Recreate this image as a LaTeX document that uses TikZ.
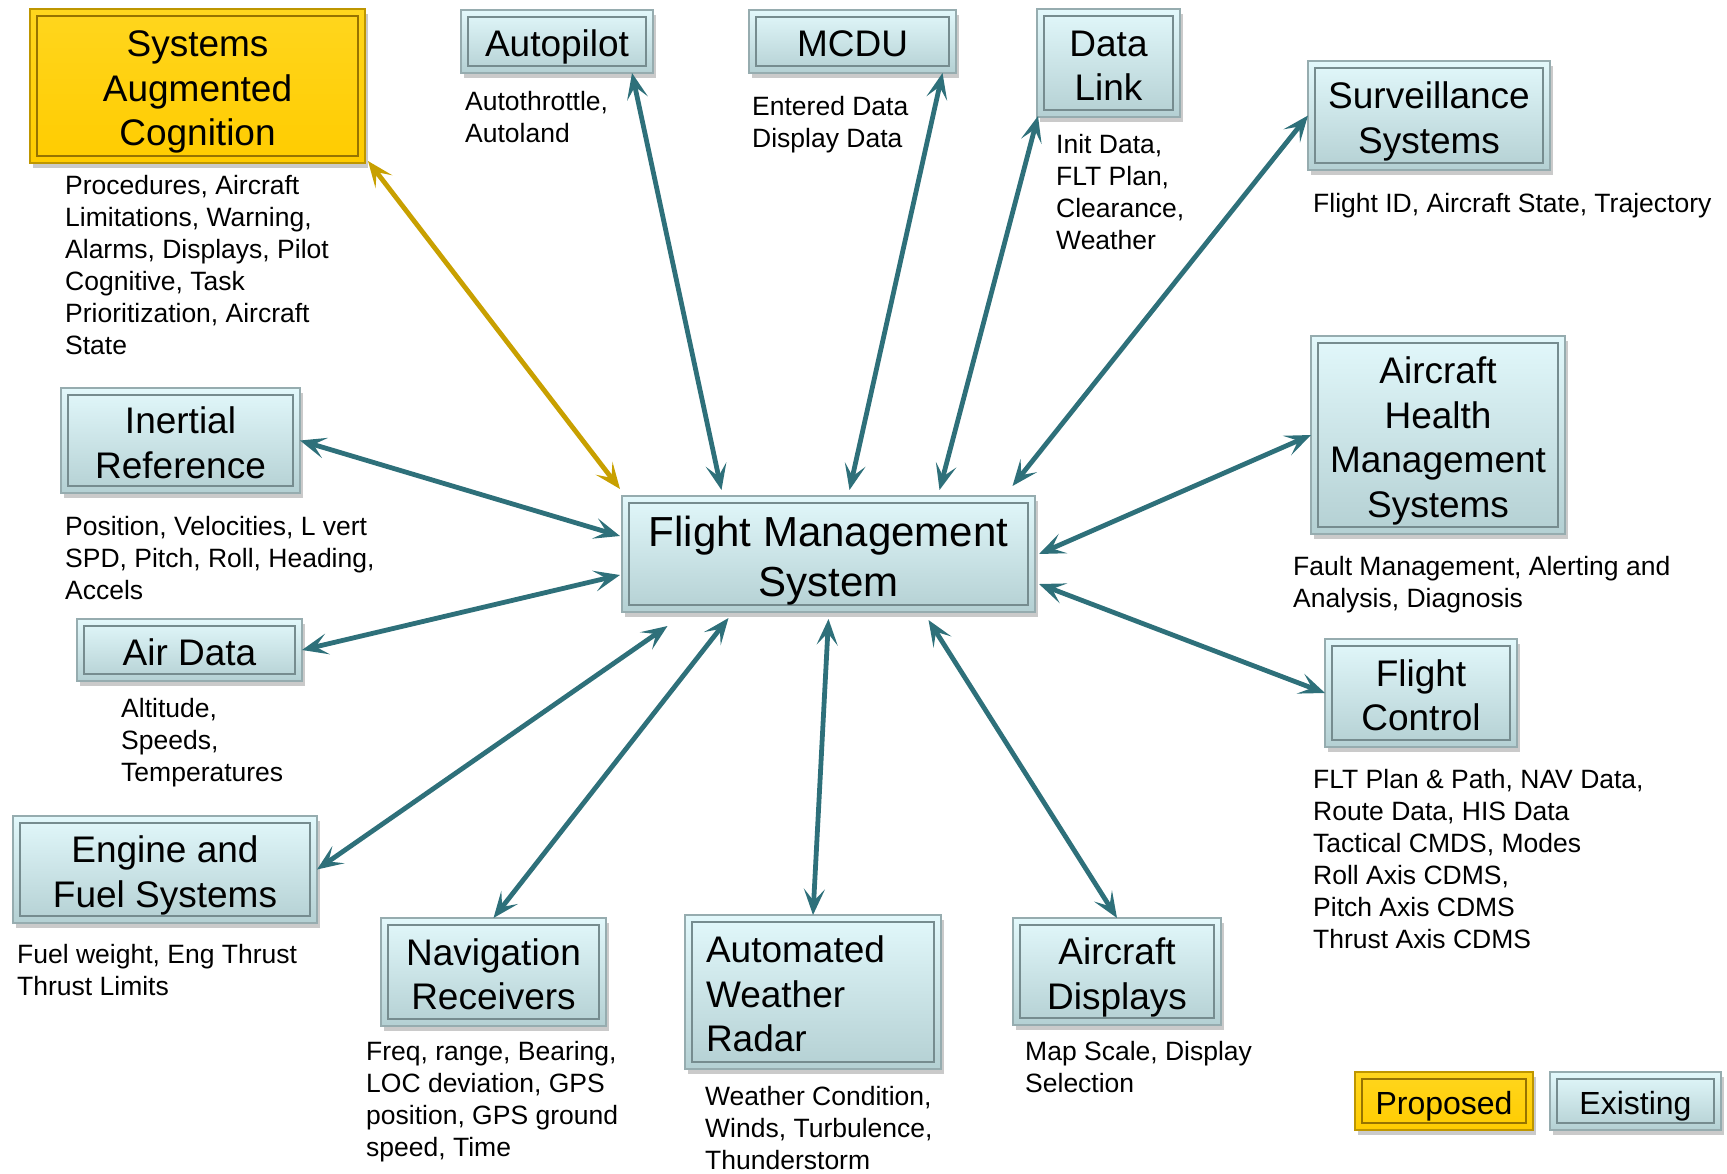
\documentclass[tikz,border=0pt]{standalone}
\usepackage{fontspec}
\setmainfont{Liberation Sans}
\usetikzlibrary{arrows.meta,shadows,calc}
\definecolor{boxtop}{RGB}{226,248,251}
\definecolor{boxbot}{RGB}{180,208,211}
\definecolor{boxline}{RGB}{150,172,175}
\definecolor{boxinner}{RGB}{118,140,143}
\definecolor{goldfill}{RGB}{255,204,0}
\definecolor{goldtop}{RGB}{255,214,30}
\definecolor{goldline}{RGB}{190,150,0}
\definecolor{goldinner}{RGB}{150,115,0}
\definecolor{teal}{RGB}{46,112,122}
\definecolor{goldarrow}{RGB}{200,160,0}
\newcommand{\lbltab}[1]{\begin{tabular}[t]{@{}l@{}}#1\end{tabular}}
\newcommand{\topstr}{\rule{0pt}{1.05em}}
\newcommand{\botstr}{\rule[-0.22em]{0pt}{0.22em}}
\tikzset{
  sysbox/.style={draw=boxline, line width=1.5pt, top color=boxtop, bottom color=boxbot,
    inner sep=0pt, outer sep=0pt, align=center,
    font=\fontsize{37}{44.6}\selectfont,
    drop shadow={shadow xshift=3pt, shadow yshift=-5pt, opacity=0.35, fill=black!60},
    path picture={\draw[boxinner, line width=2.2pt]
      ([shift={(7pt,-7pt)}]path picture bounding box.north west) rectangle
      ([shift={(-7pt,7pt)}]path picture bounding box.south east);}},
  propbox/.style={sysbox, draw=goldline, top color=goldtop, bottom color=goldfill,
    path picture={\draw[goldinner, line width=2.2pt]
      ([shift={(7pt,-7pt)}]path picture bounding box.north west) rectangle
      ([shift={(-7pt,7pt)}]path picture bounding box.south east);}},
  lbl/.style={anchor=base west, inner sep=0pt, font=\fontsize{26.5}{32}\selectfont},
  link/.style={draw=teal, line width=4.8pt,
    {Stealth[length=26pt, width=21pt, inset=12pt]}-{Stealth[length=26pt, width=21pt, inset=12pt]}},
  goldlink/.style={link, draw=goldarrow}
}
\begin{document}
\begin{tikzpicture}[x=1pt, y=-1pt]
\useasboundingbox (0,0) rectangle (1727,1173);
% boxes
\node[propbox, minimum width=335pt, minimum height=154pt] (sac) at (197.5,86) {\topstr Systems\\Augmented\\Cognition\botstr};
\node[sysbox, minimum width=192pt, minimum height=63pt] (ap) at (557,41.5) {\topstr Autopilot\botstr};
\node[sysbox, minimum width=207pt, minimum height=63pt] (mcdu) at (852.5,41.5) {\topstr MCDU\botstr};
\node[sysbox, minimum width=143pt, minimum height=108pt] (dl) at (1108.5,63) {\topstr Data\\Link\botstr};
\node[sysbox, minimum width=242pt, minimum height=109pt] (sv) at (1429,115.5) {\topstr Surveillance\\Systems\botstr};
\node[sysbox, minimum width=239pt, minimum height=105pt] (ir) at (180.5,440.5) {\topstr Inertial\\Reference\botstr};
\node[sysbox, minimum width=413pt, minimum height=116pt, font=\fontsize{42}{50.7}\selectfont] (fms) at (828.5,554) {\topstr Flight Management\\System\botstr};
\node[sysbox, minimum width=254pt, minimum height=198pt] (ahms) at (1438,435) {\topstr Aircraft\\Health\\Management\\Systems\botstr};
\node[sysbox, minimum width=225pt, minimum height=62pt] (ad) at (189.5,650) {\topstr Air Data\botstr};
\node[sysbox, minimum width=192pt, minimum height=108pt] (fc) at (1421,693) {\topstr Flight\\Control\botstr};
\node[sysbox, minimum width=304pt, minimum height=107pt] (ef) at (165,869.5) {\topstr Engine and\\Fuel Systems\botstr};
\node[sysbox, minimum width=225pt, minimum height=108pt] (nr) at (493.5,972) {\topstr Navigation\\Receivers\botstr};
\node[sysbox, minimum width=256pt, minimum height=154pt, align=left] (awr) at (813,992) {\topstr Automated\hspace*{35pt}\\Weather\\Radar\botstr};
\node[sysbox, minimum width=208pt, minimum height=107pt] (disp) at (1117,971.5) {\topstr Aircraft\\Displays\botstr};
\node[propbox, minimum width=178pt, minimum height=58pt, font=\fontsize{32}{38}\selectfont] (prop) at (1444,1101) {\topstr Proposed\botstr};
\node[sysbox, minimum width=171pt, minimum height=58pt, font=\fontsize{32}{38}\selectfont] (ex) at (1635.5,1101) {\topstr Existing\botstr};
% labels
\node[lbl] (l-sac) at (65,194.5) {\lbltab{Procedures, Aircraft\\Limitations, Warning,\\Alarms, Displays, Pilot\\Cognitive, Task\\Prioritization, Aircraft\\State}};
\node[lbl] (l-ap) at (465,110.5) {\lbltab{Autothrottle,\\Autoland}};
\node[lbl] (l-mcdu) at (752,115.5) {\lbltab{Entered Data\\Display Data}};
\node[lbl] (l-dl) at (1056,153.5) {\lbltab{Init Data,\\FLT Plan,\\Clearance,\\Weather}};
\node[lbl] (l-sv) at (1313,212.5) {\lbltab{Flight ID, Aircraft State, Trajectory}};
\node[lbl] (l-ir) at (65,535.5) {\lbltab{Position, Velocities, L vert\\SPD, Pitch, Roll, Heading,\\Accels}};
\node[lbl] (l-ahms) at (1293,575.5) {\lbltab{Fault Management, Alerting and\\Analysis, Diagnosis}};
\node[lbl] (l-ad) at (121,717.5) {\lbltab{Altitude,\\Speeds,\\Temperatures}};
\node[lbl] (l-fc) at (1313,788.5) {\lbltab{FLT Plan \& Path, NAV Data,\\Route Data, HIS Data\\Tactical CMDS, Modes\\Roll Axis CDMS,\\Pitch Axis CDMS\\Thrust Axis CDMS}};
\node[lbl] (l-ef) at (17,963.5) {\lbltab{Fuel weight, Eng Thrust\\Thrust Limits}};
\node[lbl] (l-nr) at (366,1060.5) {\lbltab{Freq, range, Bearing,\\LOC deviation, GPS\\position, GPS ground\\speed, Time}};
\node[lbl] (l-awr) at (705,1105.5) {\lbltab{Weather Condition,\\Winds, Turbulence,\\Thunderstorm}};
\node[lbl] (l-disp) at (1025,1060.5) {\lbltab{Map Scale, Display\\Selection}};
% connectors
\draw[goldlink] ([shift={(3pt,2pt)}]sac.south east) -- ([shift={(-2pt,7pt)}]fms.north west);
\draw[link] ([xshift=75pt]ap.south) -- ([shift={(-107pt,6pt)}]fms.north);
\draw[link] ([xshift=90pt]mcdu.south) -- ([shift={(21pt,6pt)}]fms.north);
\draw[link] ([shift={(1pt,1pt)}]dl.south west) -- ([shift={(111pt,6pt)}]fms.north);
\draw[link] (sv.west) -- ([shift={(184pt,10pt)}]fms.north);
\draw[link] (ir.east) -- ([shift={(-2pt,18pt)}]fms.west);
\draw[link] (ad.east) -- ([shift={(-2pt,-21pt)}]fms.west);
\draw[link] (ahms.west) -- ([xshift=4pt]fms.east);
\draw[link] (fc.west) -- ([shift={(4pt,-30pt)}]fms.east);
\draw[link] (ef.east) -- ([shift={(-161pt,-14pt)}]fms.south);
\draw[link] (nr.north) -- ([shift={(-100pt,-6pt)}]fms.south);
\draw[link] (awr.north) -- ([shift={(0pt,-7pt)}]fms.south);
\draw[link] (disp.north) -- ([shift={(100pt,-8pt)}]fms.south);
\end{tikzpicture}
\end{document}
